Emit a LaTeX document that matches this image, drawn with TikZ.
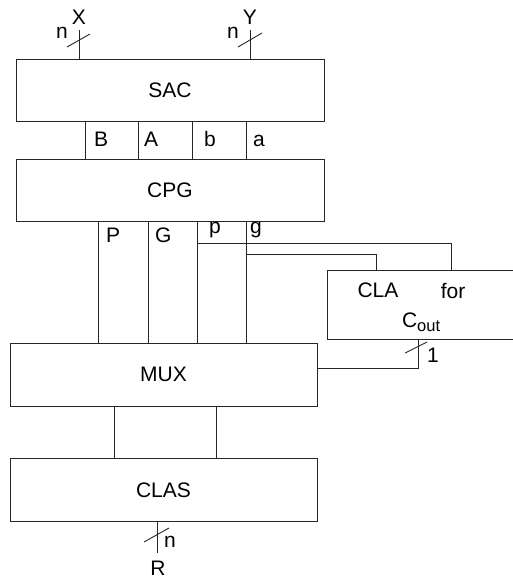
\documentclass[tikz,border=0pt]{standalone}
\usepackage{fontspec}
\setmainfont{Liberation Sans}
\begin{document}
\begin{tikzpicture}[x=1pt,y=-1pt,
  wire/.style={draw=black!85,line width=0.9pt},
  blk/.style={draw=black!85,line width=1pt,rectangle,inner sep=0pt,outer sep=0pt,fill=none},
  lbl/.style={inner sep=0pt,outer sep=0pt,font=\fontsize{21}{25}\selectfont},
  sublbl/.style={inner sep=0pt,outer sep=0pt,font=\fontsize{21}{25}\selectfont,anchor=base west},
  busslash/.style={draw=black!85,line width=0.9pt}]
\useasboundingbox (0,0) rectangle (513,579);
% boxes
\node[blk,minimum width=308pt,minimum height=62pt] (sac) at (170,90) {};
\node[blk,minimum width=308pt,minimum height=62pt] (cpg) at (170,190) {};
\node[blk,minimum width=307pt,minimum height=63pt] (mux) at (163.5,374.5) {};
\node[blk,minimum width=307pt,minimum height=63pt] (clas) at (163.5,489.5) {};
\node[blk,minimum width=188pt,minimum height=69pt] (cla) at (421,304.5) {};
% box texts
\node[lbl] (tsac) at (170,90) {SAC};
\node[lbl] (tcpg) at (170,190) {CPG};
\node[lbl] (tmux) at (163.5,374.5) {MUX};
\node[lbl] (tclas) at (163.5,490.5) {CLAS};
\node[lbl] (tcla) at (378,290.5) {CLA};
\node[lbl] (tfor) at (453,290.5) {for};
\node[sublbl] (tcout) at (402,327) {C\raisebox{-4pt}{\fontsize{16.5}{16.5}\selectfont out}};
% inputs
\coordinate (xtop) at (79,30);
\coordinate (ytop) at (250,30);
\draw[wire] (xtop) -- (xtop |- sac.north);
\draw[wire] (ytop) -- (ytop |- sac.north);
\coordinate (xs1) at (67,47); \coordinate (xs2) at (90,34);
\coordinate (ys1) at (238,47); \coordinate (ys2) at (262,33);
\draw[busslash] (xs1) -- (xs2);
\draw[busslash] (ys1) -- (ys2);
\node[lbl] (lx) at (79,17.5) {X};
\node[lbl] (ly) at (250,17.5) {Y};
\node[lbl,anchor=base] (nx) at (62,38) {n};
\node[lbl,anchor=base] (ny) at (233,38) {n};
% SAC -> CPG buses
\foreach \xx/\nm in {85/cB,138/cA,192/cb,246/ca}{
  \coordinate (\nm) at (\xx,121);
  \draw[wire] (\nm |- sac.south) -- (\nm |- cpg.north);
}
\node[sublbl] (lB) at (94,146) {B};
\node[sublbl] (lA) at (144,146) {A};
\node[sublbl] (lb) at (204,146) {b};
\node[sublbl] (la) at (253,146) {a};
% CPG -> MUX buses
\foreach \xx/\nm in {98/cP,148/cG,197/cp,246/cg}{
  \coordinate (\nm) at (\xx,221);
  \draw[wire] (\nm |- cpg.south) -- (\nm |- mux.north);
}
\node[sublbl] (lP) at (106,242) {P};
\node[sublbl] (lG) at (155,242) {G};
\node[sublbl] (lp) at (209,233) {p};
\node[sublbl] (lg) at (250,233) {g};
% branches to CLA
\coordinate (pb) at (197,243);
\coordinate (pc) at (451,243);
\coordinate (gb) at (246,254);
\coordinate (gc) at (376,254);
\draw[wire] (pb) -- (pc) -- (pc |- cla.north);
\draw[wire] (gb) -- (gc) -- (gc |- cla.north);
% CLA output to MUX
\coordinate (co) at (418,339);
\coordinate (cb) at (418,368);
\draw[wire] (co) -- (cb) -- (cb -| mux.east);
\coordinate (cs1) at (405,353); \coordinate (cs2) at (427,342);
\draw[busslash] (cs1) -- (cs2);
\node[lbl] (l1) at (433,355) {1};
% MUX -> CLAS
\foreach \xx/\nm in {114/m1,216/m2}{
  \coordinate (\nm) at (\xx,406);
  \draw[wire] (\nm |- mux.south) -- (\nm |- clas.north);
}
% output R
\coordinate (rb) at (157,553);
\draw[wire] (rb |- clas.south) -- (rb);
\coordinate (rs1) at (144,542); \coordinate (rs2) at (169,528);
\draw[busslash] (rs1) -- (rs2);
\node[lbl,anchor=base] (nr) at (170,547) {n};
\node[lbl] (lr) at (158,568.5) {R};
\end{tikzpicture}
\end{document}
